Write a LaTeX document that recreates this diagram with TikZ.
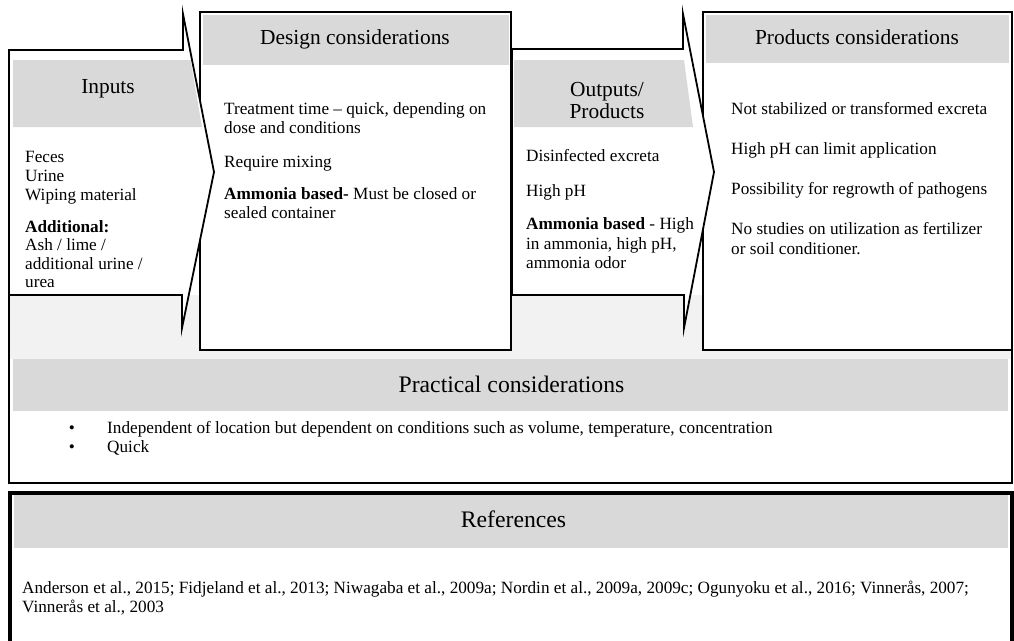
\documentclass[tikz,border=0pt]{standalone}
\usepackage{fontspec}
\setmainfont{Liberation Serif}
\definecolor{headgray}{HTML}{D9D9D9}
\definecolor{basegray}{HTML}{F2F2F2}
\begin{document}
\begin{tikzpicture}[x=1pt,y=-1pt,
  body/.style={font=\fontsize{17.2}{19}\selectfont, inner sep=0pt, anchor=mid west},
  headtext/.style={font=\fontsize{21.4}{24}\selectfont, inner sep=0pt, anchor=base},
  bigheadtext/.style={font=\fontsize{23.7}{26}\selectfont, inner sep=0pt, anchor=base},
  panel/.style={draw=black, line width=1.8pt, fill=white},
  chevron/.style={draw=black, line width=1.8pt, fill=white, line join=miter, miter limit=25},
  band/.style={fill=headgray, draw=none},
]
\useasboundingbox (0,0) rectangle (1014,640);
\clip (0,0) rectangle (1014,640);

% practical considerations frame
\fill[basegray] (9,295) rectangle (1012,359);
\fill[band] (13,359) rectangle (1008,411);
\draw[line width=1.3pt] (9,50) -- (9,483) -- (1012,483) -- (1012,340);

% design and products boxes
\draw[panel] (200,12) rectangle (511,350);
\fill[band] (203,14.5) rectangle (509,65);
\draw[panel] (703,12) rectangle (1012,350);
\fill[band] (706,14.5) rectangle (1009,63);

% input and output chevrons
\draw[chevron] (9,50) -- (183,50) -- (183,14) -- (214,172) -- (182,328) -- (182,295) -- (9,295) -- cycle;
\fill[band] (13,60) -- (190.5,60) -- (202,127) -- (13,127) -- cycle;
\draw[chevron] (512,49) -- (683,49) -- (683,14) -- (714,172) -- (684,328) -- (684,295) -- (512,295) -- cycle;
\fill[band] (514,60) -- (684,60) -- (693,127) -- (514,127) -- cycle;

% references box
\fill[white] (10,493) rectangle (1012,660);
\fill[band] (14,495) rectangle (1008,548);
\draw[line width=3.6pt] (10,660) -- (10,493) -- (1012,493) -- (1012,660);

% headings
\node[headtext] (inhead) at (108,93) {Inputs};
\node[headtext] (dshead) at (355,44) {Design considerations};
\node[headtext] (outheada) at (607,96) {Outputs/};
\node[headtext] (outheadb) at (607,118) {Products};
\node[headtext] (prhead) at (857,44) {Products considerations};
\node[bigheadtext] (pchead) at (511.5,392) {Practical considerations};
\node[bigheadtext] (refhead) at (513.5,527) {References};

% inputs
\node[body] (in1) at (25,160) {Feces};
\node[body] (in2) at (25,179) {Urine};
\node[body] (in3) at (25,198) {Wiping material};
\node[body] (in4) at (25,230) {\bfseries Additional:};
\node[body] (in5) at (25,248.5) {Ash / lime /};
\node[body] (in6) at (25,267) {additional urine /};
\node[body] (in7) at (25,285.5) {urea};

% design considerations
\node[body] (ds1) at (224,112) {Treatment time – quick, depending on};
\node[body] (ds2) at (224,131) {dose and conditions};
\node[body] (ds3) at (224,165) {Require mixing};
\node[body] (ds4) at (224,197) {{\bfseries Ammonia based-} Must be closed or};
\node[body] (ds5) at (224,216) {sealed container};

% outputs
\node[body] (out1) at (526,159) {Disinfected excreta};
\node[body] (out2) at (526,194) {High pH};
\node[body] (out3) at (526,227) {{\bfseries Ammonia based} - High};
\node[body] (out4) at (526,247) {in ammonia, high pH,};
\node[body] (out5) at (526,266) {ammonia odor};

% products considerations
\node[body] (pr1) at (731,112) {Not stabilized or transformed excreta};
\node[body] (pr2) at (731,152) {High pH can limit application};
\node[body] (pr3) at (731,192) {Possibility for regrowth of pathogens};
\node[body] (pr4) at (731,232) {No studies on utilization as fertilizer};
\node[body] (pr5) at (731,252) {or soil conditioner.};

% practical considerations
\node[body, anchor=mid] (bula) at (72,431) {•};
\node[body] (pc1) at (107,431) {Independent of location but dependent on conditions such as volume, temperature, concentration};
\node[body, anchor=mid] (bulb) at (72,450) {•};
\node[body] (pc2) at (107,450) {Quick};

% references
\node[body] (ref1) at (22,591) {Anderson et al., 2015; Fidjeland et al., 2013; Niwagaba et al., 2009a; Nordin et al., 2009a, 2009c; Ogunyoku et al., 2016; Vinnerås, 2007;};
\node[body] (ref2) at (22,610) {Vinnerås et al., 2003};
\end{tikzpicture}
\end{document}
